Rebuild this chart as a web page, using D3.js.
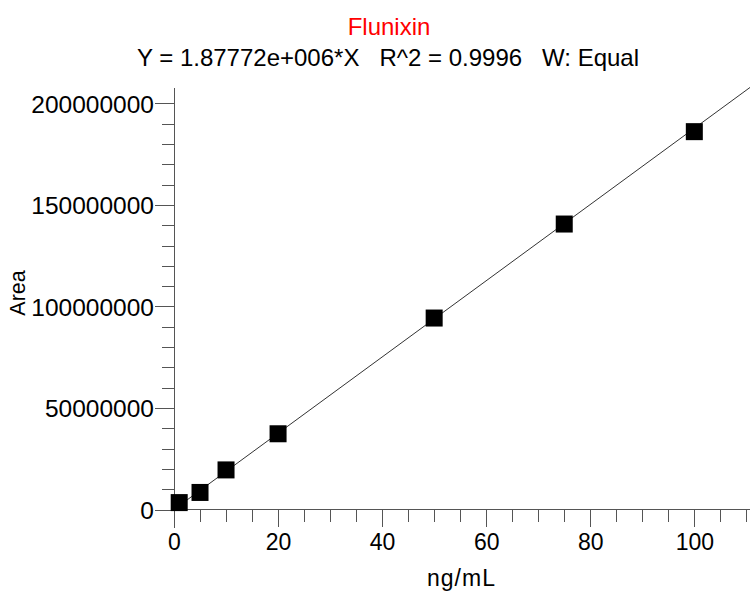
<!DOCTYPE html>
<meta charset="utf-8">
<style>
    body { margin: 0; background: #fff; }
    svg { display: block; font-family: "Liberation Sans", Arial, sans-serif; }
    .axis path, .axis line { fill: none; stroke: #555; stroke-width: 1px; shape-rendering: crispEdges; }
    .axis text { fill: #000; }
</style>
<svg width="750" height="592"></svg>
<body>
<script src="https://cdn.jsdelivr.net/npm/d3@7"></script>
<script>
    // calibration points
    var conc = [1, 5, 10, 20, 50, 75, 100];
    var area = [3.4e6, 8.4e6, 19.5e6, 37.3e6, 94.3e6, 140.6e6, 186.1e6];
    var xTicks = [0, 20, 40, 60, 80, 100];
    var yTicks = [0, 50000000, 100000000, 150000000, 200000000];
    var slope = 1.87772e6;

    var svg = d3.select("svg"),
        xMax = 110.7,
        yMax = 207.6e6;

    var x = d3.scaleLinear().domain([0, xMax]).range([174, 750]),
        y = d3.scaleLinear().domain([0, yMax]).range([509.5, 88]);

    // titles
    svg.append("text")
        .attr("x", 389).attr("y", 35)
        .attr("text-anchor", "middle")
        .style("font-size", "24px").attr("fill", "#ff0000")
        .text("Flunixin");

    svg.append("text")
        .attr("x", 388).attr("y", 65.5)
        .attr("text-anchor", "middle")
        .style("font-size", "24px").style("white-space", "pre")
        .text("Y = 1.87772e+006*X   R^2 = 0.9996   W: Equal");

    // x axis, minor then major ticks
    var gx = svg.append("g").attr("class", "axis")
        .attr("transform", "translate(0," + Math.floor(y(0)) + ")");
    gx.call(d3.axisBottom(x).tickValues(d3.range(0, xMax, 5)).tickSize(13).tickFormat(""));
    gx.append("g").call(d3.axisBottom(x).tickValues(xTicks).tickSize(18).tickSizeOuter(0))
        .selectAll("text").attr("y", 41).attr("dy", 0).style("font-size", "23px");
    gx.selectAll("path").attr("d", "M" + x(0) + ",0.5H750");

    // y axis
    var gy = svg.append("g").attr("class", "axis")
        .attr("transform", "translate(" + Math.floor(x(0)) + ",0)");
    gy.call(d3.axisLeft(y).tickValues(d3.range(0, yMax, 10e6)).tickSize(12).tickFormat(""));
    gy.append("g").call(d3.axisLeft(y).tickValues(yTicks).tickSize(19).tickSizeOuter(0).tickFormat(d3.format("d")))
        .selectAll("text").attr("x", -20).attr("dy", "0.36em").style("font-size", "24.5px");
    gy.selectAll("path").attr("d", "M0.5," + y(yMax) + "V" + (y(0) + 18));

    // axis titles
    svg.append("text")
        .attr("transform", "translate(25,293) rotate(-90)")
        .attr("text-anchor", "middle")
        .style("font-size", "21.5px")
        .text("Area");

    svg.append("text")
        .attr("x", 461.5).attr("y", 586)
        .attr("text-anchor", "middle")
        .style("font-size", "23px").style("letter-spacing", "1px")
        .text("ng/mL");

    // fitted line
    svg.append("line")
        .attr("x1", x(0)).attr("y1", y(0))
        .attr("x2", x(xMax)).attr("y2", y(slope * xMax))
        .attr("stroke", "#333").attr("stroke-width", 1);

    // points
    svg.selectAll(".pt")
        .data(conc)
        .enter().append("rect")
        .attr("class", "pt")
        .attr("x", function (d) { return x(d) - 8.5; })
        .attr("y", function (d, i) { return y(area[i]) - 8.5; })
        .attr("width", 17)
        .attr("height", 17)
        .attr("fill", "#000");
</script>
</body>
